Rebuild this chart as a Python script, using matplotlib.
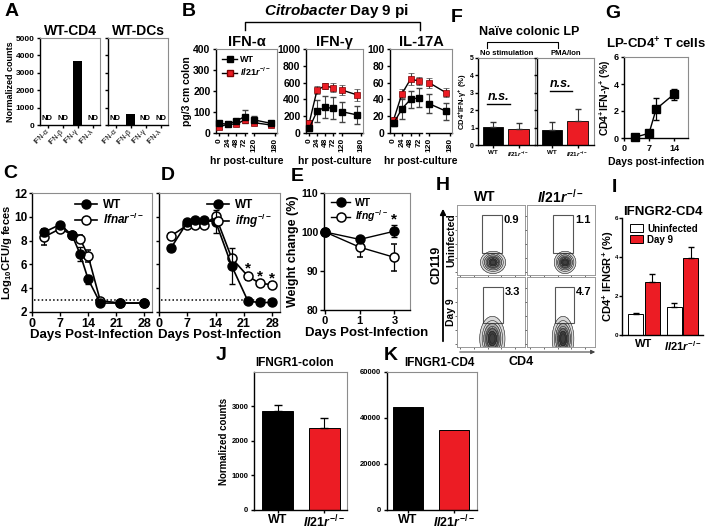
import numpy as np
import matplotlib
matplotlib.use('Agg')
import matplotlib.pyplot as plt
from matplotlib.lines import Line2D
from matplotlib.patches import Rectangle, Patch, FancyArrowPatch

plt.rcParams['font.family'] = ['Liberation Sans', 'DejaVu Sans']
plt.rcParams['font.weight'] = 'bold'
plt.rcParams['axes.labelweight'] = 'bold'
plt.rcParams['axes.titleweight'] = 'bold'
plt.rcParams['mathtext.fontset'] = 'custom'
plt.rcParams['mathtext.rm'] = 'Liberation Sans:bold'
plt.rcParams['mathtext.it'] = 'Liberation Sans:italic:bold'
plt.rcParams['mathtext.bf'] = 'Liberation Sans:bold'
plt.rcParams['axes.linewidth'] = 1.0
plt.rcParams['xtick.major.size'] = 3
plt.rcParams['ytick.major.size'] = 3

RED = '#ec1c24'
GRAY = '#8c8c8c'
KO = r'$\mathit{Il21r}^{-/-}$'

# ---- data ----
# A
ifn_types = ['IFN-α', 'IFN-β', 'IFN-γ', 'IFN-λ']
cd4_counts = [0, 0, 3650, 0]
cd4_nd = [True, True, False, True]
dc_counts = [0, 620, 0, 0]
dc_nd = [True, False, True, True]

# B (hr post-culture)
hours = [0, 24, 48, 72, 120, 168]
hour_ticks = [0, 24, 48, 72, 120, 180]
ifna_wt = [46, 42, 57, 78, 62, 46]
ifna_wt_err = [8, 6, 8, 30, 20, 10]
ifna_ko = [30, 42, 42, 62, 49, 38]
ifna_ko_err = [10, 6, 8, 12, 10, 8]
ifng_wt = [56, 262, 306, 294, 254, 214]
ifng_wt_err = [30, 130, 130, 130, 120, 110]
ifng_ko = [123, 512, 560, 540, 512, 452]
ifng_ko_err = [30, 50, 40, 50, 60, 70]
il17_wt = [11.5, 29, 40, 42, 35, 26]
il17_wt_err = [3, 12, 10, 11, 11, 10]
il17_ko = [15.5, 47, 64, 62, 60, 48]
il17_ko_err = [3, 5, 7, 5, 6, 5]

# C
c_days = [3, 7, 10, 12, 14, 17, 22, 28]
c_wt = [8.7, 9.35, 8.45, 6.85, 4.75, 2.75, 2.75, 2.75]
c_wt_err = [0.3, 0.15, 0.15, 0.6, 0.4, 0.1, 0.1, 0.1]
c_ifnar = [8.3, 9.0, 8.5, 8.15, 6.7, 2.95, 2.75, 2.75]
c_ifnar_err = [0.7, 0.2, 0.2, 0.3, 0.5, 0.1, 0.1, 0.1]

# D
d_days = [3, 7, 9, 11, 14, 18, 22, 25, 28]
d_wt = [7.4, 9.55, 9.7, 9.7, 9.6, 5.85, 2.9, 2.8, 2.8]
d_wt_err = [0.2, 0.2, 0.2, 0.2, 1.0, 1.5, 0.1, 0.1, 0.1]
d_ifng = [8.4, 9.3, 9.3, 9.3, 10.05, 6.5, 5.0, 4.4, 4.3]
d_ifng_err = [0.2, 0.2, 0.2, 0.2, 0.2, 0.2, 0.3, 0.2, 0.2]
d_sig_days = [22, 25, 28]

# E
e_days = ['0', '1', '3']
e_wt = [100, 98.1, 100.2]
e_wt_err = [0, 0.6, 1.6]
e_ifng = [100, 96.1, 93.5]
e_ifng_err = [0, 2.4, 3.4]

# F
genotypes = ['WT', KO]
f_nostim = [1.05, 0.93]
f_nostim_err = [0.27, 0.35]
f_pma = [0.86, 1.4]
f_pma_err = [0.48, 0.65]

# G
g_days = [3, 7, 9, 14]
g_vals = [0.05, 0.35, 2.15, 3.25]
g_err = [0.05, 0.1, 0.8, 0.4]

# H (flow plots: rows Uninfected / Day 9, cols WT / Il21r-/-)
h_pct = [['0.9', '1.1'], ['3.3', '4.7']]
h_gates = [[(37, 66, 31, 86), (38, 68, 31, 86)],
           [(38, 68, 34, 86), (41, 69, 34, 86)]]
h_pops = [[(53, 18, 7, 6), (56, 18, 6, 6)],
          [(52, 12, 7, 12), (53, 12, 6, 12)]]

# I
i_uninf = [1.06, 1.42]
i_uninf_err = [0.05, 0.24]
i_day9 = [2.73, 3.96]
i_day9_err = [0.4, 0.53]

# J, K
j_vals = [2870, 2365]
j_err = [180, 305]
k_vals = [44700, 34600]

W, H = 708, 531
fig = plt.figure(figsize=(W / 100, H / 100), dpi=100)


def px_axes(x0, y0, x1, y1):
    return fig.add_axes([x0 / W, 1 - y1 / H, (x1 - x0) / W, (y1 - y0) / H])


def frame(ax, box=True):
    for s in ['top', 'right']:
        if box:
            ax.spines[s].set_color(GRAY)
            ax.spines[s].set_linewidth(0.8)
        else:
            ax.spines[s].set_visible(False)
    ax.tick_params(direction='out', width=1)


def ylabel_at(ax, text, xpx, size):
    pos = ax.get_position()
    ax.set_ylabel(text, fontsize=size)
    ax.yaxis.set_label_coords((xpx - pos.x0 * W) / (pos.width * W), 0.5)


def xlabel_at(ax, text, ypx, size):
    pos = ax.get_position()
    ax.set_xlabel(text, fontsize=size)
    ytop = (1 - ypx / H - pos.y0) / pos.height
    ax.xaxis.set_label_coords(0.5, ytop)


def fig_line(xs, ys, lw=1.0):
    fig.add_artist(Line2D([x / W for x in xs], [1 - y / H for y in ys],
                          color='black', lw=lw))


def fig_text(x, y, s, **kw):
    fig.text(x / W, 1 - y / H, s, ha=kw.pop('ha', 'center'), va=kw.pop('va', 'center'), **kw)


# ---- A ----
for counts, nd, box_px, title, show_y in [
        (cd4_counts, cd4_nd, (40, 38, 100, 125), 'WT-CD4', True),
        (dc_counts, dc_nd, (108, 38, 168, 125), 'WT-DCs', False)]:
    ax = px_axes(*box_px)
    frame(ax)
    ax.bar(range(4), counts, width=0.65, color='black')
    for i, flag in enumerate(nd):
        if flag:
            ax.text(i, 150, 'ND', ha='center', va='bottom', fontsize=5.5)
    ax.set_xlim(-0.5, 3.5)
    ax.set_ylim(0, 5000)
    ax.set_yticks(range(0, 5001, 1000))
    ax.set_xticks(range(4))
    ax.set_xticklabels(ifn_types, rotation=45, ha='right', va='center',
                       rotation_mode='anchor', fontsize=5, fontweight='normal')
    ax.tick_params(axis='y', labelsize=6, length=2.5, pad=1.5)
    ax.tick_params(axis='x', length=2, pad=2)
    if not show_y:
        ax.set_yticklabels([])
    else:
        ylabel_at(ax, 'Normalized counts', 15, 6.5)
    ax.set_title(title, fontsize=10, pad=2)

# ---- B ----


def hr_pos(h):
    return h if h <= 72 else 100 + (h - 120)


hx = [hr_pos(h) for h in hours]
b_panels = [('IFN-α', (216, 49, 277, 133), 400, 100, ifna_wt, ifna_wt_err, ifna_ko, ifna_ko_err),
            ('IFN-γ', (306, 49, 363, 133), 1000, 200, ifng_wt, ifng_wt_err, ifng_ko, ifng_ko_err),
            ('IL-17A', (390, 49, 452, 133), 100, 20, il17_wt, il17_wt_err, il17_ko, il17_ko_err)]
for k, (title, box_px, ymax, ystep, wt, wte, ko, koe) in enumerate(b_panels):
    ax = px_axes(*box_px)
    frame(ax)
    for seg in [slice(0, 4), slice(4, 6)]:
        ax.errorbar(hx[seg], ko[seg], yerr=koe[seg], fmt='-s', color='black', mfc=RED,
                    mec='#7a0000', mew=0.5, ms=4.5, lw=1, ecolor='#444444', elinewidth=0.8,
                    capsize=2, clip_on=False, zorder=3)
        ax.errorbar(hx[seg], wt[seg], yerr=wte[seg], fmt='-s', color='black', mfc='black',
                    mec='black', ms=4.5, lw=1, ecolor='#444444', elinewidth=0.8,
                    capsize=2, clip_on=False, zorder=3)
    ax.set_xlim(-10, 165)
    ax.set_ylim(0, ymax)
    ax.set_yticks(np.arange(0, ymax + 1, ystep))
    ax.set_xticks([hr_pos(h) for h in hour_ticks])
    ax.set_xticklabels([str(h) for h in hour_ticks], rotation=90, fontsize=6)
    ax.tick_params(axis='y', labelsize=7.5, length=2.5, pad=1.5)
    ax.tick_params(axis='x', length=2, pad=1.5)
    ax.spines['bottom'].set_bounds(-10, 80)
    ax.plot([92, 165], [0, 0], color='black', lw=1, transform=ax.get_xaxis_transform(),
            clip_on=False)
    ax.set_title(title, fontsize=10.5, pad=1)
    xlabel_at(ax, 'hr post-culture', 156, 7.5)
    if k == 0:
        ylabel_at(ax, 'pg/3 cm colon', 192, 7.5)
        handles = [Line2D([], [], color='black', marker='s', ms=4.5, lw=1),
                   Line2D([], [], color='black', marker='s', mfc=RED, mec='#7a0000', ms=4.5, lw=1)]
        ax.legend(handles, ['WT', KO], loc='upper left', bbox_to_anchor=(0.0, 1.0),
                  fontsize=6.5, frameon=False, handlelength=1.6, handletextpad=0.4,
                  labelspacing=0.15, borderpad=0.2)

fig_text(337, 11, r'$\mathit{Citrobacter}$ Day 9 pi', fontsize=11)
fig_line([245, 245, 420, 420], [30, 22, 22, 30])

# ---- C and D ----
for key, box_px, days, wt, wte, ko, koe, ko_name, show_y in [
        ('C', (32, 193, 152, 312), c_days, c_wt, c_wt_err, c_ifnar, c_ifnar_err, r'$\mathit{Ifnar}^{-/-}$', True),
        ('D', (159, 193, 280, 312), d_days, d_wt, d_wt_err, d_ifng, d_ifng_err, r'$\mathit{ifng}^{-/-}$', False)]:
    ax = px_axes(*box_px)
    frame(ax)
    ax.axhline(3, color='black', ls=(0, (1, 1.5)), lw=1.1, xmin=0.02, xmax=0.97)
    ax.errorbar(days, ko, yerr=koe, fmt='-o', color='black', mfc='white', mec='black',
                mew=1.1, ms=6.5, lw=1.2, capsize=2, elinewidth=0.9, clip_on=False, zorder=3)
    ax.errorbar(days, wt, yerr=wte, fmt='-o', color='black', mfc='black', mec='black',
                ms=6.5, lw=1.2, capsize=2, elinewidth=0.9, clip_on=False, zorder=4)
    if key == 'D':
        for d in d_sig_days:
            i = days.index(d)
            ax.text(d, ko[i] + koe[i] + 0.35, '*', ha='center', va='center', fontsize=11)
    ax.set_xlim(0, 29.9)
    ax.set_ylim(2, 12)
    ax.set_xticks([0, 7, 14, 21, 28])
    ax.set_yticks(range(2, 13, 2))
    ax.tick_params(axis='x', labelsize=9, length=3, pad=1.5)
    ax.tick_params(axis='y', labelsize=8.5, length=2.5, pad=1)
    if show_y:
        ylabel_at(ax, r'Log$_{10}$CFU/g feces', 14.5, 8)
    else:
        ax.set_yticklabels([])
    xlabel_at(ax, 'Days Post-Infection', 329, 9.5)
    handles = [Line2D([], [], color='black', marker='o', ms=6.5, lw=1.2),
               Line2D([], [], color='black', marker='o', mfc='white', ms=6.5, lw=1.2, mew=1.1)]
    ax.legend(handles, ['WT', ko_name], loc='upper right', bbox_to_anchor=(1.0, 1.02),
              fontsize=8.5, frameon=False, handlelength=1.8, handletextpad=0.5,
              labelspacing=0.05, borderpad=0.2)

# ---- E ----
ax = px_axes(324, 193, 410, 310)
frame(ax)
ex = list(range(len(e_days)))
ax.errorbar(ex, e_ifng, yerr=e_ifng_err, fmt='-o', color='black', mfc='white', mec='black',
            mew=1.1, ms=6.5, lw=1, capsize=2, elinewidth=0.9, clip_on=False, zorder=3)
ax.errorbar(ex, e_wt, yerr=e_wt_err, fmt='-o', color='black', mfc='black', mec='black',
            ms=6.5, lw=1, capsize=2, elinewidth=0.9, clip_on=False, zorder=4)
ax.text(2, e_wt[2] + e_wt_err[2] + 1.3, '*', ha='center', va='center', fontsize=11)
ax.set_xlim(-0.03, 2.45)
ax.set_ylim(80, 110)
ax.set_yticks([80, 90, 100, 110])
ax.set_xticks(ex)
ax.set_xticklabels(e_days)
ax.tick_params(axis='x', labelsize=8, length=3, pad=1.5)
ax.tick_params(axis='y', labelsize=7.5, length=3, pad=1)
ylabel_at(ax, 'Weight change (%)', 299, 9)
xlabel_at(ax, 'Days Post-Infection', 327, 9.5)
handles = [Line2D([], [], color='black', marker='o', ms=6.5, lw=1),
           Line2D([], [], color='black', marker='o', mfc='white', ms=6.5, lw=1, mew=1.1)]
ax.legend(handles, ['WT', r'$\mathit{Ifng}^{-/-}$'], loc='upper left', bbox_to_anchor=(0.0, 1.02),
          fontsize=7.5, frameon=False, handlelength=1.8, handletextpad=0.5,
          labelspacing=0.05, borderpad=0.2)

# ---- F ----
for k, (box_px, vals, errs, cond) in enumerate([
        ((478, 58, 535, 145), f_nostim, f_nostim_err, 'No stimulation'),
        ((537, 58, 594, 145), f_pma, f_pma_err, 'PMA/Ion')]):
    ax = px_axes(*box_px)
    frame(ax)
    ax.bar([0, 1], vals, width=0.8, color=['black', RED], edgecolor='black', lw=0.6)
    ax.errorbar([0, 1], vals, yerr=[[0, 0], errs], fmt='none', ecolor='#333333',
                elinewidth=0.8, capsize=2.5)
    ax.set_xlim(-0.6, 1.65)
    ax.set_ylim(0, 5)
    ax.set_yticks(range(6))
    ax.set_xticks([0, 1])
    ax.set_xticklabels(genotypes, fontsize=4.5)
    ax.tick_params(axis='y', labelsize=5, length=2, pad=0.8)
    ax.tick_params(axis='x', length=2, pad=1.5)
    if k == 0:
        ylabel_at(ax, r'CD4$^{+}$IFN-γ$^{+}$ (%)', 469, 5.5)
        ns_x, ns_y = 0.36, 0.55
    else:
        ax.set_yticklabels([])
        ns_x, ns_y = 0.42, 0.7
    ax.text(ns_x, ns_y, 'n.s.', transform=ax.transAxes, ha='center', va='center',
            fontsize=9, fontstyle='italic')
    ax.plot([ns_x - 0.2, ns_x + 0.2], [ns_y - 0.075] * 2, color='black', lw=1,
            transform=ax.transAxes)
    ax.set_title(cond, fontsize=5.5, pad=2)

fig_text(529, 32, 'Naïve colonic LP', fontsize=9)
fig_line([487, 487, 558, 558], [48, 42, 42, 48], lw=0.8)

# ---- G ----
ax = px_axes(624, 57, 688, 138)
frame(ax)
ax.errorbar(g_days, g_vals, yerr=g_err, fmt='-s', color='black', ms=5.5, lw=1,
            capsize=2, elinewidth=0.9, clip_on=False, zorder=3)
ax.set_xlim(0, 17.9)
ax.set_ylim(0, 6)
ax.set_xticks([0, 7, 14])
ax.set_yticks([0, 2, 4, 6])
ax.tick_params(labelsize=6.5, length=2.5, pad=1.5)
ax.set_title(r'LP-CD4$^{+}$ T cells', fontsize=9.5, pad=6)
ylabel_at(ax, r'CD4$^{+}$IFN-γ$^{+}$ (%)', 613, 7.5)
xlabel_at(ax, 'Days post-infection', 157, 7.5)

# ---- H ----
flow_boxes = [[(457, 205, 525, 275), (527, 205, 595, 275)],
              [(457, 277, 525, 347), (527, 277, 595, 347)]]
gx, gy = np.meshgrid(np.linspace(0, 100, 200), np.linspace(0, 100, 200))
for r in range(2):
    for c in range(2):
        ax = px_axes(*flow_boxes[r][c])
        cx, cy, sx, sy = h_pops[r][c]
        dens = np.exp(-((gx - cx) ** 2 / (2 * sx ** 2) + (gy - cy) ** 2 / (2 * sy ** 2)))
        ax.contourf(gx, gy, dens, levels=[0.03, 0.2, 0.45, 0.7, 1.01],
                    colors=['#d9d9d9', '#a8a8a8', '#707070', '#404040'])
        ax.contour(gx, gy, dens, levels=[0.03, 0.1, 0.2, 0.35, 0.5, 0.7, 0.85],
                   colors='#222222', linewidths=0.4)
        x0, x1, y0, y1 = h_gates[r][c]
        ax.add_patch(Rectangle((x0, y0), x1 - x0, y1 - y0, fill=False, ec='#555555', lw=0.8))
        ax.text(x1 + 3, y1 - 8, h_pct[r][c], ha='left', va='center', fontsize=8)
        ax.set_xlim(0, 100)
        ax.set_ylim(0, 100)
        ax.set_xticks([5, 25, 45, 65, 85])
        ax.set_yticks([5, 25, 45, 65, 85])
        ax.set_xticklabels([])
        ax.set_yticklabels([])
        ax.tick_params(length=1.5, width=0.6, color='#555555')
        for s in ax.spines.values():
            s.set_color('#999999')
            s.set_linewidth(0.7)

fig_text(485, 197, 'WT', fontsize=10)
fig_text(560, 197, KO, fontsize=10)
fig_text(451, 240, 'Uninfected', fontsize=7.5, rotation=90)
fig_text(451, 312, 'Day 9', fontsize=7.5, rotation=90)
fig_text(436, 265, 'CD119', fontsize=9, rotation=90)
fig_text(521, 362, 'CD4', fontsize=9)
fig.add_artist(FancyArrowPatch((443 / W, 1 - 344 / H), (443 / W, 1 - 206 / H),
                               transform=fig.transFigure, arrowstyle='-|>',
                               mutation_scale=8, lw=1.3, color='black'))
fig.add_artist(FancyArrowPatch((457 / W, 1 - 352 / H), (598 / W, 1 - 352 / H),
                               transform=fig.transFigure, arrowstyle='-|>',
                               mutation_scale=6, lw=0.8, color='#444444'))

# ---- I ----
ax = px_axes(622, 218, 703, 335)
frame(ax, box=False)
ix = np.arange(2)
ax.bar(ix - 0.21, i_uninf, width=0.39, color='white', edgecolor='black', lw=0.7)
ax.bar(ix + 0.21, i_day9, width=0.39, color=RED, edgecolor='black', lw=0.7)
ax.errorbar(ix - 0.21, i_uninf, yerr=[[0, 0], i_uninf_err], fmt='none', ecolor='black',
            elinewidth=0.8, capsize=2.5)
ax.errorbar(ix + 0.21, i_day9, yerr=[[0, 0], i_day9_err], fmt='none', ecolor='black',
            elinewidth=0.8, capsize=2.5)
ax.set_xlim(-0.57, 1.53)
ax.set_ylim(0, 6)
ax.set_yticks([0, 2, 4, 6])
ax.set_xticks(ix)
ax.set_xticklabels(genotypes, fontsize=8)
ax.tick_params(axis='y', labelsize=4.5, length=2, pad=0.6)
ax.tick_params(axis='x', length=0, pad=3)
ax.set_title('IFNGR2-CD4', fontsize=9.5, pad=2)
ylabel_at(ax, r'CD4$^{+}$ IFNGR$^{+}$ (%)', 616, 8)
ax.legend([Patch(fc='white', ec='black', lw=0.7), Patch(fc=RED, ec='black', lw=0.7)],
          ['Uninfected', 'Day 9'], loc='upper left', bbox_to_anchor=(0.02, 1.01),
          fontsize=7, frameon=False, handlelength=1.3, handleheight=0.9,
          handletextpad=0.4, labelspacing=0.1, borderpad=0.2)

# ---- J ----
ax = px_axes(254, 372, 347, 510)
frame(ax)
ax.bar([0, 1], j_vals, width=0.67, color=['black', RED], edgecolor='black', lw=0.7)
ax.errorbar([0, 1], j_vals, yerr=[[0, 0], j_err], fmt='none', ecolor='black',
            elinewidth=0.8, capsize=3)
ax.set_xlim(-0.505, 1.49)
ax.set_ylim(0, 3990)
ax.set_yticks([0, 1000, 2000, 3000])
ax.set_xticks([0, 1])
ax.set_xticklabels(genotypes, fontsize=9)
ax.tick_params(axis='y', labelsize=5.5, length=2.5, pad=1.5)
ax.tick_params(axis='x', length=2.5, pad=0.5)
ax.set_title('IFNGR1-colon', fontsize=8.5, pad=4, x=0.435)
ylabel_at(ax, 'Normalized counts', 229, 7)

# ---- K ----
ax = px_axes(387, 372, 477, 510)
frame(ax)
ax.bar([0, 1], k_vals, width=0.65, color=['black', RED], edgecolor='black', lw=0.7)
ax.set_xlim(-0.46, 1.5)
ax.set_ylim(0, 60000)
ax.set_yticks([0, 20000, 40000, 60000])
ax.set_xticks([0, 1])
ax.set_xticklabels(genotypes, fontsize=9)
ax.tick_params(axis='y', labelsize=5.5, length=2.5, pad=1.5)
ax.tick_params(axis='x', length=2.5, pad=0.5)
ax.set_title('IFNGR1-CD4', fontsize=8.5, pad=4, x=0.58)

# ---- panel letters ----
for letter, x, y in [('A', 12, 12), ('B', 189, 12), ('C', 10, 173), ('D', 168, 175),
                     ('E', 297, 177), ('F', 457, 18), ('G', 613, 13), ('H', 443, 186),
                     ('I', 614, 187), ('J', 221, 356), ('K', 391, 356)]:
    fig_text(x, y, letter, fontsize=14)

fig.savefig('out.png', dpi=100)
